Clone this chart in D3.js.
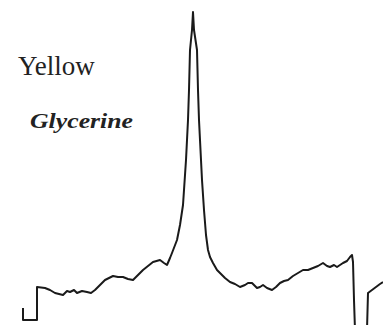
<!DOCTYPE html>
<html>
<head>
<meta charset="utf-8">
<script src="https://cdn.jsdelivr.net/npm/d3@7/dist/d3.min.js"></script>
<style>
  html, body { margin: 0; padding: 0; background: #fff; }
  svg { display: block; }
</style>
</head>
<body>
<script>
// Spectrum trace (arbitrary units)
const shift = [0,0,14,14,22,27,32,40,44,47,51,54,59,64,68,72,77,82,90,95,100,105,110,115,120,125,130,137,141,144,147,149,154,157,160,163,165,166,167,169,170,171,174,175,176,178,179,181,183,185,187,190,194,197,202,207,212,217,222,225,229,234,237,240,244,249,253,257,261,265,270,275,280,285,290,295,300,304,307,311,314,317,320,324,327,329,330,331,332,344,345,349,353,357,360];
const intensity = [12,0,0,33,32,30,27,25,29,28,30,27,29,28,27,30,35,40,44,43,43,41,40,45,50,54,58,60,57,55,62,67,80,95,115,160,200,230,270,290,308,290,270,230,200,160,140,110,85,70,63,57,50,47,42,38,36,33,35,37,37,32,33,35,32,30,33,37,39,40,44,47,50,50,52,54,57,54,53,55,53,55,57,59,63,65,58,20,-10,-10,27,30,33,36,38];
const labels = ["Yellow", "Glycerine"];

const W = 383, H = 325;
const svg = d3.select("body").append("svg").attr("width", W).attr("height", H);

const x = d3.scaleLinear().domain([0, 360]).range([23, 383]);
const y = d3.scaleLinear().domain([0, 308]).range([320, 12]);

const pts = shift.map((s, i) => [s, intensity[i]]);
const line = d3.line().x(d => x(d[0])).y(d => y(d[1])).curve(d3.curveLinear);

svg.append("path")
  .attr("d", line(pts))
  .attr("fill", "none")
  .attr("stroke", "#1a1a1a")
  .attr("stroke-width", 2)
  .attr("stroke-linejoin", "round");

svg.append("text")
  .attr("x", 18).attr("y", 75)
  .attr("font-family", "'Liberation Serif', serif")
  .attr("font-size", 27)
  .attr("fill", "#222")
  .text(labels[0]);

svg.append("text")
  .attr("x", 30).attr("y", 128)
  .attr("font-family", "'Liberation Serif', serif")
  .attr("font-size", 22)
  .attr("font-weight", "bold")
  .attr("font-style", "italic")
  .attr("textLength", 103)
  .attr("lengthAdjust", "spacingAndGlyphs")
  .attr("fill", "#222")
  .text(labels[1]);
</script>
</body>
</html>
